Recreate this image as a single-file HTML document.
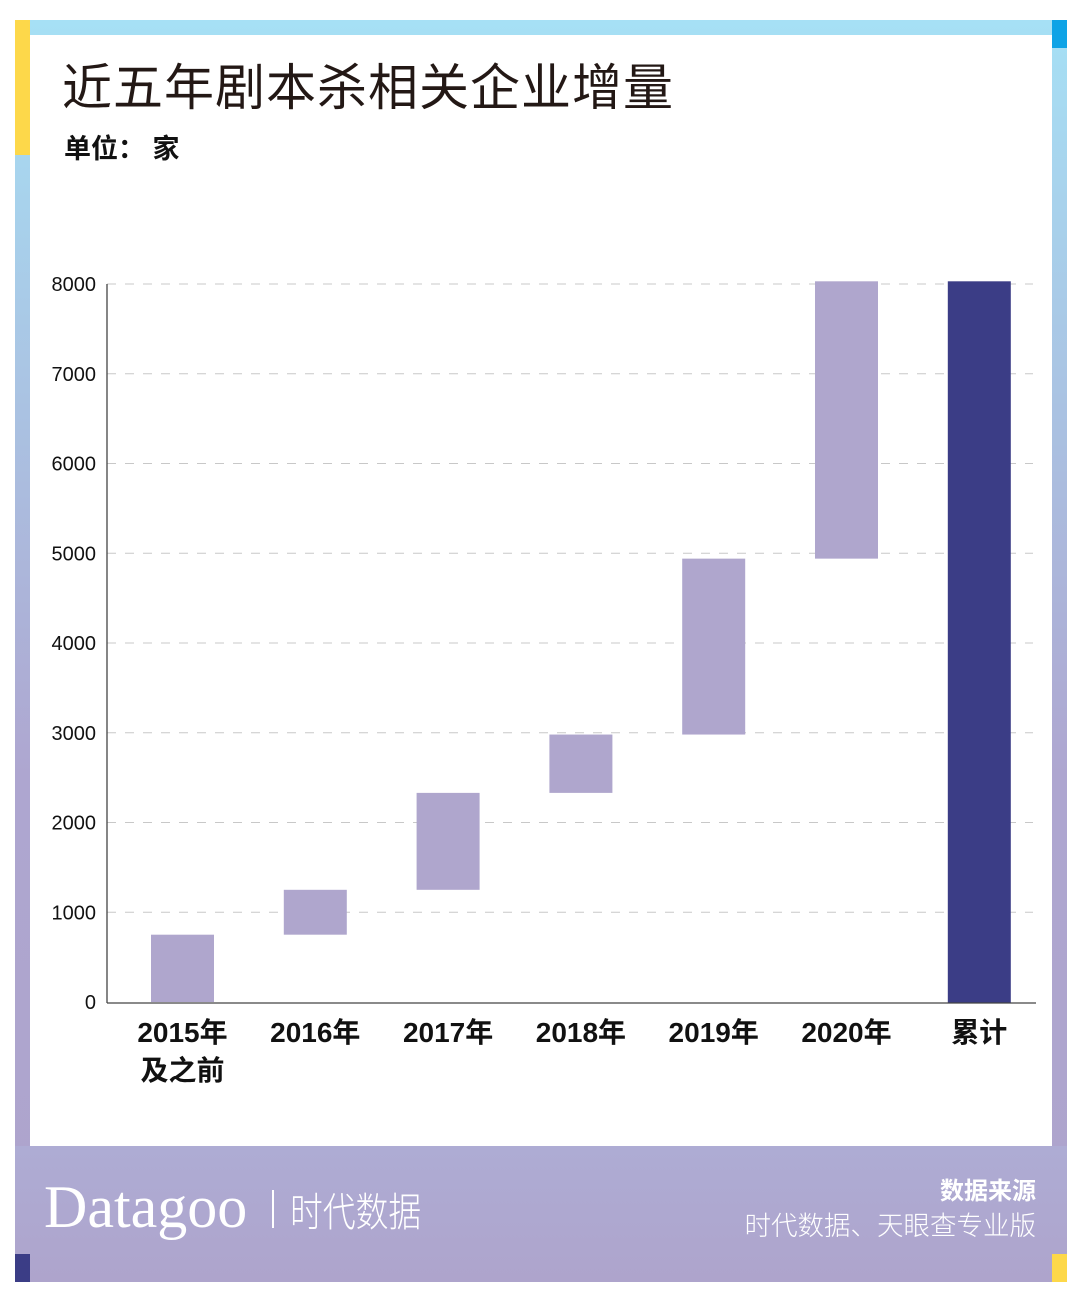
<!DOCTYPE html>
<html><head><meta charset="utf-8">
<style>
body{margin:0;width:1080px;height:1304px;background:#fff;position:relative;overflow:hidden;font-family:"Liberation Sans","Noto Sans CJK SC",sans-serif}
.abs{position:absolute}
</style></head><body>
<div class="abs" style="left:15px;top:20px;width:1052px;height:1262px;background:linear-gradient(#a6e0f5,#aea6d0 60%,#aea4cc)"></div>
<div class="abs" style="left:15px;top:1146px;width:1052px;height:136px;background:linear-gradient(#aeacd4,#aea4cc)"></div>
<div class="abs" style="left:15px;top:20px;width:15px;height:135px;background:#fdd84a"></div>
<div class="abs" style="left:1052px;top:20px;width:15px;height:28px;background:#0ea3e6"></div>
<div class="abs" style="left:15px;top:1254px;width:15px;height:28px;background:#3b3d86"></div>
<div class="abs" style="left:1052px;top:1254px;width:15px;height:28px;background:#fdd84a"></div>
<div class="abs" style="left:30px;top:35px;width:1022px;height:1111px;background:#fff"></div>
<div class="abs" style="left:62px;top:58px;font-size:50px;color:#231815;line-height:60px;letter-spacing:1px">近五年剧本杀相关企业增量</div>
<div class="abs" style="left:64px;top:131px;font-size:27px;font-weight:bold;color:#111;line-height:36px">单位：&nbsp;家</div>
<svg class="abs" style="left:0;top:0" width="1080" height="1304" id="chart"></svg>
<div class="abs" style="left:44px;top:1172px;color:#fff;font-family:'Liberation Serif',serif;font-size:60px;line-height:70px;transform:scaleX(1);transform-origin:left">Datagoo</div>
<div class="abs" style="left:272px;top:1190px;width:2px;height:38px;background:#fff"></div>
<div class="abs" style="left:290px;top:1184px;color:#fff;font-size:40px;line-height:50px;font-family:'Noto Sans CJK SC',sans-serif;font-weight:300;transform:scaleX(0.82);transform-origin:left">时代数据</div>
<div class="abs" style="right:44px;top:1176px;color:#fff;font-size:24px;font-weight:bold;line-height:32px">数据来源</div>
<div class="abs" style="right:44px;top:1209px;color:#fff;font-size:26.5px;line-height:34px;font-weight:300">时代数据、天眼查专业版</div>
<script>
const categories=["2015年\n及之前","2016年","2017年","2018年","2019年","2020年","累计"];
const increments=[750,500,1080,650,1960,3090];
const ticks=[0,1000,2000,3000,4000,5000,6000,7000,8000];
const NS="http://www.w3.org/2000/svg";
const svg=document.getElementById('chart');
const y0=1002,pxPer=89.75,x0=107,step=132.8,c0=182.5,bw=63;
const Y=v=>y0-v*pxPer/1000, X=i=>c0+i*step;
function mk(t,a){const e=document.createElementNS(NS,t);for(const k in a)e.setAttribute(k,a[k]);svg.appendChild(e);return e;}
ticks.forEach(t=>{
  if(t>0){const g=mk('line',{x1:x0,x2:1033,y1:Y(t),y2:Y(t),stroke:'#c8c8c8','stroke-width':1,'stroke-dasharray':'9,9'});
  
  }
  const l=mk('text',{x:96,y:Y(t)+7,'text-anchor':'end','font-size':20,fill:'#111'});l.textContent=t;
  
  
});
let cum=0;
increments.forEach((v,i)=>{
  const r=mk('rect',{x:X(i)-bw/2,y:Y(cum+v),width:bw,height:Y(cum)-Y(cum+v),fill:'#afa6cd'});
  
  
  cum+=v;
});
const tb=mk('rect',{x:X(6)-bw/2,y:Y(cum),width:bw,height:Y(0)-Y(cum)+1,fill:'#3b3d86'});


const ya=mk('line',{x1:x0,x2:x0,y1:284,y2:y0+1,stroke:'#444','stroke-width':1.3});


const xa=mk('line',{x1:x0,x2:1036,y1:y0+1,y2:y0+1,stroke:'#444','stroke-width':1.3});


categories.forEach((c,i)=>{
  c.split('\n').forEach((s,j)=>{
    const t=mk('text',{x:X(i),y:1042+j*38,'text-anchor':'middle','font-size':28,'font-weight':'bold',fill:'#111'});
    t.textContent=s;
    
    
  });
});
</script>
</body></html>
